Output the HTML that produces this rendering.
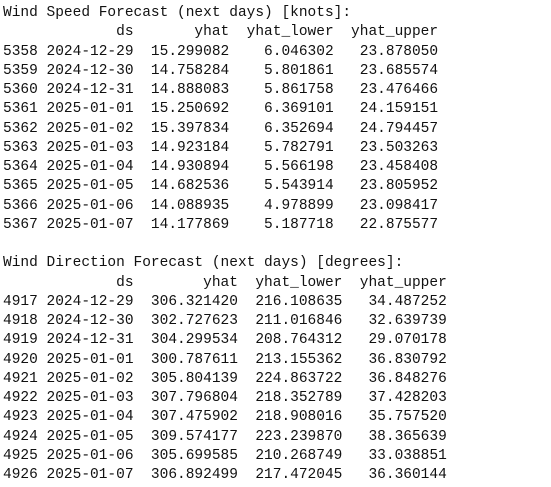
<!DOCTYPE html>
<html><head><meta charset="utf-8">
<style>
html,body{margin:0;padding:0;background:#fff;width:551px;height:487px;overflow:hidden}
pre{position:absolute;left:3px;top:4px;margin:0;font-family:"Liberation Mono",monospace;font-size:14.5px;line-height:19.25px;color:#111;letter-spacing:0}
</style></head><body>
<pre><span>Wind Speed Forecast (next days) [knots]:</span>
<span>             ds       yhat  yhat_lower  yhat_upper
5358 2024-12-29  15.299082    6.046302   23.878050
5359 2024-12-30  14.758284    5.801861   23.685574
5360 2024-12-31  14.888083    5.861758   23.476466
5361 2025-01-01  15.250692    6.369101   24.159151
5362 2025-01-02  15.397834    6.352694   24.794457
5363 2025-01-03  14.923184    5.782791   23.503263
5364 2025-01-04  14.930894    5.566198   23.458408
5365 2025-01-05  14.682536    5.543914   23.805952
5366 2025-01-06  14.088935    4.978899   23.098417
5367 2025-01-07  14.177869    5.187718   22.875577</span>

<span>Wind Direction Forecast (next days) [degrees]:</span>
<span>             ds        yhat  yhat_lower  yhat_upper
4917 2024-12-29  306.321420  216.108635   34.487252
4918 2024-12-30  302.727623  211.016846   32.639739
4919 2024-12-31  304.299534  208.764312   29.070178
4920 2025-01-01  300.787611  213.155362   36.830792
4921 2025-01-02  305.804139  224.863722   36.848276
4922 2025-01-03  307.796804  218.352789   37.428203
4923 2025-01-04  307.475902  218.908016   35.757520
4924 2025-01-05  309.574177  223.239870   38.365639
4925 2025-01-06  305.699585  210.268749   33.038851
4926 2025-01-07  306.892499  217.472045   36.360144</span></pre>
</body></html>
